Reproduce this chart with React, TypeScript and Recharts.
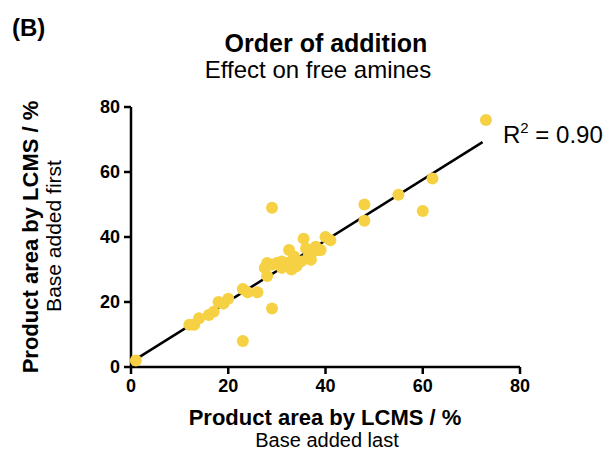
import { ScatterChart, Scatter, XAxis, YAxis, ReferenceLine } from 'recharts'

// points: base added last (x) vs base added first (y)
const baseLast = [1, 12, 13, 14, 16, 17, 18, 19, 20, 23, 24, 26, 23, 29, 29, 28, 27.5, 28, 29, 30, 31, 31, 32, 32.5, 33, 33.5, 34, 35, 35.5, 36, 36.5, 37, 37.5, 38, 38.5, 39, 40, 41, 48, 48, 55, 60, 62, 73]
const baseFirst = [2, 13, 13, 15, 16, 17, 20, 19.5, 21, 24, 23, 23, 8, 18, 49, 28, 30.5, 32, 31.5, 32, 30.5, 32.5, 32, 36, 30, 34, 31, 32.5, 39.5, 36.5, 34, 33, 35.5, 37, 36, 36, 40, 39, 50, 45, 53, 48, 58, 76]

const axisTicks = [0, 20, 40, 60, 80]

// linear fit drawn in the figure (end points)
const fitStart = { x: 0.7, y: 2.1 }
const fitEnd = { x: 72.3, y: 69.2 }
const rSquared = '0.90'

const points = baseLast.map((x, i) => ({ x, y: baseFirst[i] }))

const YELLOW = '#f6d143'
const FONT = '"Liberation Sans", Arial, sans-serif'

const Dot = (props: any) => <circle cx={props.cx} cy={props.cy} r={6} fill={YELLOW} />

export default function App() {
  const tickStyle = { fill: '#000', fontSize: 18, fontWeight: 700, fontFamily: FONT }
  return (
    <div style={{ position: 'absolute', left: 0, top: 0, width: 610, height: 450, background: '#fff' }}>
      <ScatterChart width={610} height={450} margin={{ top: 107, right: 90, left: 91, bottom: 53 }}>
        <XAxis
          type="number"
          dataKey="x"
          domain={[0, 80]}
          ticks={axisTicks}
          height={30}
          stroke="#000"
          strokeWidth={2.5}
          tickSize={7}
          tickMargin={5}
          tick={tickStyle}
        />
        <YAxis
          type="number"
          dataKey="y"
          domain={[0, 80]}
          ticks={axisTicks}
          width={40}
          stroke="#000"
          strokeWidth={2.5}
          tickSize={7}
          tickMargin={4}
          tick={tickStyle}
        />
        <Scatter data={points} fill={YELLOW} shape={Dot} isAnimationActive={false} />
        <ReferenceLine segment={[fitStart, fitEnd]} stroke="#000" strokeWidth={2.5} />
      </ScatterChart>

      <svg width={610} height={450} style={{ position: 'absolute', left: 0, top: 0, pointerEvents: 'none' }} fontFamily={FONT}>
        <text x={12} y={36} fontSize={24} fontWeight={700}>(B)</text>
        <text x={326} y={52} fontSize={25} fontWeight={700} textAnchor="middle">Order of addition</text>
        <text x={318} y={78} fontSize={24} textAnchor="middle">Effect on free amines</text>

        <text x={325} y={425} fontSize={22} fontWeight={700} textAnchor="middle">Product area by LCMS / %</text>
        <text x={327} y={447} fontSize={20} textAnchor="middle">Base added last</text>

        <text x={38} y={237} fontSize={22} fontWeight={700} textAnchor="middle" transform="rotate(-90 38 237)">
          Product area by LCMS / %
        </text>
        <text x={61} y={236} fontSize={21} textAnchor="middle" transform="rotate(-90 61 236)">
          Base added first
        </text>

        <text x={503} y={143} fontSize={24}>
          R<tspan fontSize={15} dy={-10}>2</tspan>
          <tspan dy={10}> = {rSquared}</tspan>
        </text>
      </svg>
    </div>
  )
}
